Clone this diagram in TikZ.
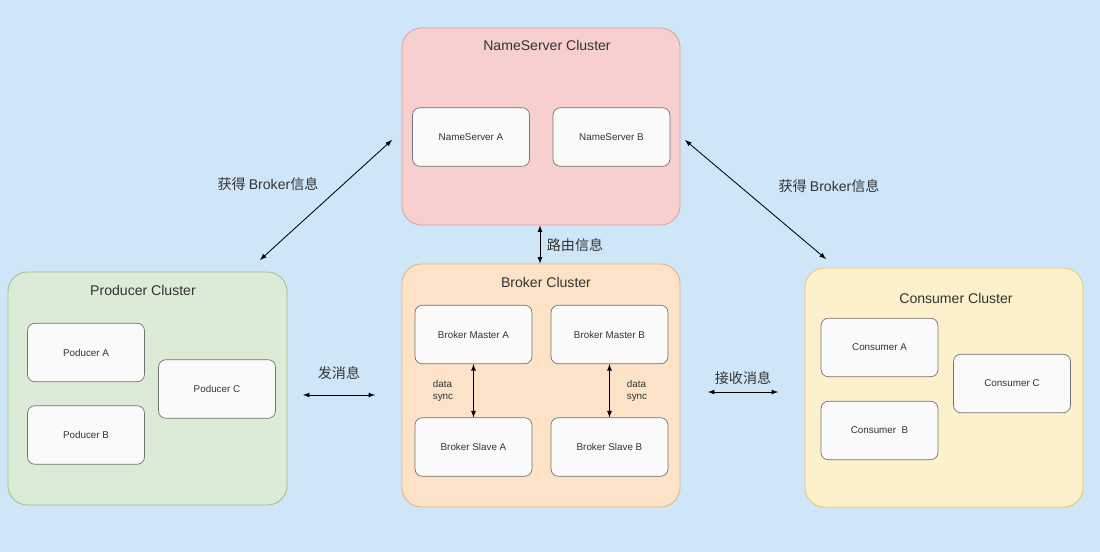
\documentclass[tikz,border=0pt]{standalone}
\usepackage{fontspec}
\setmainfont{Liberation Sans}
\newfontfamily\cjk{Noto Sans CJK SC}
\usetikzlibrary{positioning, arrows}

\definecolor{bgblue}{HTML}{CFE6F8}
\definecolor{nsfill}{HTML}{F7CFCF}
\definecolor{nsdraw}{HTML}{D9A0A0}
\definecolor{prfill}{HTML}{DCEBD5}
\definecolor{prdraw}{HTML}{9CC08F}
\definecolor{brfill}{HTML}{FCE3C8}
\definecolor{brdraw}{HTML}{E6B27A}
\definecolor{cofill}{HTML}{FDF1CC}
\definecolor{codraw}{HTML}{E3C96A}
\definecolor{txt}{HTML}{333333}

\begin{document}
\begin{tikzpicture}
[
    x=0.025cm, y=-0.025cm, auto,
    % clusters are named C-..., inner boxes by their role
    cluster/.style = {draw=#1, line width=0.6pt, rounded corners=14pt,
                      minimum width=6.95cm, inner sep=0pt},
    box/.style     = {draw=black!55, fill=gray!4, rounded corners=5pt, line width=0.5pt,
                      minimum width=2.92cm, minimum height=1.46cm, inner sep=0pt,
                      font=\fontsize{7}{8}\selectfont, text=txt},
    title/.style   = {font=\fontsize{10}{12}\selectfont, text=txt},
    lbl/.style     = {font=\cjk\fontsize{10}{12}\selectfont, text=txt},
    link/.style    = {latex-latex, line width=0.6pt, black}
]

%=================================== Start ===================================
\fill[bgblue] (0,0) rectangle (1100,552);

% Clusters
\node[cluster=nsdraw, fill=nsfill, minimum height=4.925cm] (C-ns) at (541,126.5) {};
\node[cluster=prdraw, fill=prfill, minimum height=5.825cm, minimum width=6.975cm] (C-pr) at (147.5,388.5) {};
\node[cluster=brdraw, fill=brfill, minimum height=6.075cm] (C-br) at (541,385.5) {};
\node[cluster=codraw, fill=cofill, minimum height=5.975cm] (C-co) at (944,387.5) {};

\node[title] (T-ns) at (547,45)  {NameServer Cluster};
\node[title] (T-pr) at (143,290) {Producer Cluster};
\node[title] (T-br) at (546,282) {Broker Cluster};
\node[title] (T-co) at (956,298) {Consumer Cluster};

% NameServer
\foreach \name / \x / \t in {nsA/471/A, nsB/611.5/B}
    \node[box] (\name) at (\x,137) {NameServer \t};

% Producer
\node[box] (prA) at (86,352.5) {Poducer A};
\node[box] (prB) at (86,435)   {Poducer B};
\node[box] (prC) at (217,389)  {Poducer C};

% Broker
\foreach \x / \t in {473.5/A, 609.5/B} {
    \node[box] (bm\t) at (\x,334.5) {Broker Master \t};
    \node[box] (bs\t) at (\x,447)   {Broker Slave \t};
    \draw[link] (bm\t) -- (bs\t);
}
\node[font=\fontsize{7}{8}\selectfont, text=txt, align=left] (dsA) at (443,391) {data\\sync};
\node[font=\fontsize{7}{8}\selectfont, text=txt, align=left] (dsB) at (637,391) {data\\sync};

% Consumer
\node[box] (coA) at (879.5,347.5) {Consumer A};
\node[box] (coB) at (879.5,430.5) {Consumer\ \ B};
\node[box] (coC) at (1012,383.5)  {Consumer C};

% Connections between clusters
\coordinate (nsL) at (392,140);  \coordinate (prT) at (260,260);
\coordinate (nsR) at (685,140);  \coordinate (coT) at (826,259);
\coordinate (sendL) at (303,395); \coordinate (sendR) at (375,395);
\coordinate (recvL) at (708,392); \coordinate (recvR) at (778,392);

\draw[link] (nsL) -- (prT);
\draw[link] (nsR) -- (coT);
\draw[link] (C-ns.south -| 540,0) -- (C-br.north -| 540,0);
\draw[link] (sendL) -- (sendR);
\draw[link] (recvL) -- (recvR);

\node[lbl] (L-get1) at (268,184) {获得 {\fontspec{Liberation Sans}Broker}信息};
\node[lbl] (L-get2) at (829,186) {获得 {\fontspec{Liberation Sans}Broker}信息};
\node[lbl] (L-route) at (575,245) {路由信息};
\node[lbl] (L-send) at (339,373) {发消息};
\node[lbl] (L-recv) at (743,378) {接收消息};
%==================================== END ====================================

\end{tikzpicture}
\end{document}
